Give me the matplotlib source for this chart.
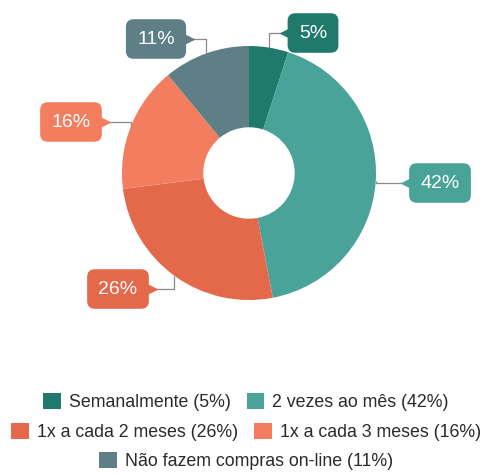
import matplotlib
matplotlib.use("Agg")
import matplotlib.pyplot as plt
from matplotlib.patches import Patch
import numpy as np

plt.rcParams['font.family'] = ['Liberation Sans', 'DejaVu Sans']

categorias = ['Semanalmente', '2 vezes ao mês', '1x a cada 2 meses',
              '1x a cada 3 meses', 'Não fazem compras on-line']
valores = [5, 42, 26, 16, 11]
cores = ['#1f7a6c', '#4aa398', '#e4694b', '#f27d5f', '#5e7f85']

W, H = 492, 474
fig = plt.figure(figsize=(W / 100, H / 100), dpi=100)
ax = fig.add_axes([0, 0, 1, 1])

cx, cy, R = 249, H - 173, 127
wedges, _ = ax.pie(valores, colors=cores, startangle=90, counterclock=False,
                   center=(cx, cy), radius=R, frame=True,
                   wedgeprops=dict(width=R * 0.64, linewidth=0))
ax.set_xlim(0, W)
ax.set_ylim(0, H)
ax.set_aspect('equal')
ax.axis('off')

# posicao das caixas de rotulo (pixels, y para baixo) e lado do entalhe
caixas = [(313, 33, 'left'), (440, 183, 'left'), (118, 289, 'right'),
          (71, 122, 'right'), (156, 39, 'right')]

textos = []
acum = 0
for v, cor, (bx, by, lado) in zip(valores, cores, caixas):
    meio = (acum + v / 2) / sum(valores) * 2 * np.pi
    acum += v
    ax_x = cx + R * np.sin(meio)
    ax_y = cy + R * np.cos(meio)
    by = H - by
    ax.plot([ax_x, ax_x, bx], [ax_y, by, by], color='#8a8a8a', lw=0.9,
            zorder=3, solid_capstyle='butt')
    t = ax.text(bx, by, f'{v}%', color='white', fontsize=14, ha='center',
                va='center', zorder=5,
                bbox=dict(boxstyle='round,pad=0.58,rounding_size=0.4',
                          fc=cor, ec='none'))
    textos.append((t, cor, lado, by))

fig.canvas.draw()
inv = ax.transData.inverted()
for t, cor, lado, by in textos:
    ext = t.get_bbox_patch().get_window_extent()
    (x0, _), (x1, _) = inv.transform([[ext.x0, ext.y0], [ext.x1, ext.y1]])
    if lado == 'left':
        ax.plot(x0 - 2, by, marker='<', ms=10, color=cor, mec='none', zorder=4)
    else:
        ax.plot(x1 + 2, by, marker='>', ms=10, color=cor, mec='none', zorder=4)

handles = [Patch(facecolor=c, edgecolor='none', label=f'{n} ({v}%)')
           for n, v, c in zip(categorias, valores, cores)]
linhas = [(handles[0:2], 402), (handles[2:4], 432), (handles[4:5], 461)]
for hs, ypix in linhas:
    leg = fig.legend(handles=hs, loc='center', ncol=len(hs),
                     bbox_to_anchor=(0.5, 1 - ypix / H), frameon=False,
                     fontsize=12.8, handlelength=1.0, handleheight=1.0,
                     handletextpad=0.45, columnspacing=0.9, borderpad=0)
    for tx in leg.get_texts():
        tx.set_color('#2a2a2a')

fig.savefig('out.png', dpi=100, facecolor='white')
